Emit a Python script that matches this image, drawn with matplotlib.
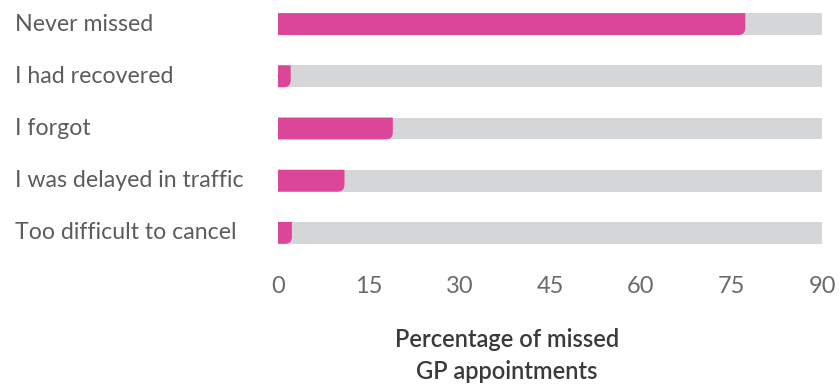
import matplotlib
matplotlib.use("Agg")
import matplotlib.pyplot as plt
from matplotlib.path import Path
from matplotlib.patches import PathPatch

CATEGORIES = ["Never missed", "I had recovered", "I forgot",
              "I was delayed in traffic", "Too difficult to cancel"]
VALUES = [77.3, 2.1, 19.0, 11.0, 2.3]
TRACK_MAX = 90
TICKS = [0, 15, 30, 45, 60, 75, 90]

PINK = "#dc4698"
TRACK = "#d5d6d8"
TEXT = "#5c5c5c"

plt.rcParams["font.family"] = ["Lato", "DejaVu Sans"]

fig = plt.figure(figsize=(8.39, 3.87), dpi=100)
ax = fig.add_axes([278 / 839, 128 / 387, 544 / 839, 261 / 387])

n = len(CATEGORIES)
ys = list(range(n - 1, -1, -1))
h = 0.42

ax.barh(ys, [TRACK_MAX] * n, height=h, color=TRACK, left=0)

# pink bars with rounded bottom-right corner
px_x = 544 / TRACK_MAX
px_y = 261 / 5
r = 7
for y, v in zip(ys, VALUES):
    rx = min(r / px_x, v)
    ry = r / px_y
    y0, y1 = y - h / 2, y + h / 2
    verts = [(0, y0), (v - rx, y0), (v, y0), (v, y0 + ry),
             (v, y1), (0, y1), (0, y0)]
    codes = [Path.MOVETO, Path.LINETO, Path.CURVE3, Path.CURVE3,
             Path.LINETO, Path.LINETO, Path.CLOSEPOLY]
    ax.add_patch(PathPatch(Path(verts, codes), facecolor=PINK,
                           edgecolor="none", zorder=3))

ax.set_xlim(0, TRACK_MAX)
ax.set_ylim(-0.5, n - 0.5)

for y, c in zip(ys, CATEGORIES):
    ax.text(-263 / px_x, y, c, ha="left", va="center", fontsize=16.7,
            color=TEXT)

ax.set_yticks([])
ax.set_xticks(TICKS)
ax.set_xticklabels([str(t) for t in TICKS], fontsize=17, color="#6a6a6a")
ax.tick_params(axis="x", length=0, pad=12)
for s in ax.spines.values():
    s.set_visible(False)

ax.set_xlabel("Percentage of missed\nGP appointments", fontsize=17,
              color="#3a3a3a", fontweight="semibold", linespacing=1.45)
ax.xaxis.set_label_coords((507 - 278) / 544, -0.265)
ax.xaxis.label.set_va("top")

fig.savefig("out.png", dpi=100)
